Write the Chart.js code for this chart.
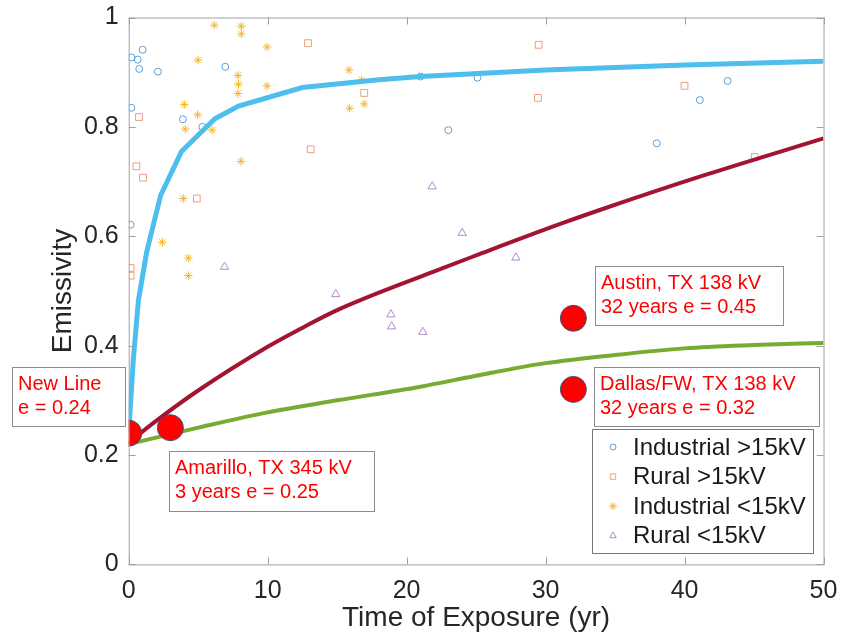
<!DOCTYPE html>
<html>
<head>
<meta charset="utf-8">
<script src="https://cdn.jsdelivr.net/npm/chart.js@4.4.1/dist/chart.umd.min.js"></script>
<style>
  html, body { margin: 0; padding: 0; background: #fff; }
</style>
</head>
<body>
<canvas id="myChart" width="841" height="642"></canvas>
<script>
// scatter measurements
const indHiX = [0.2, 0.65, 1.0, 0.76, 2.1, 6.95, 0.19, 3.9, 5.3, 0.14, 25.1, 23.0, 21.0, 43.1, 41.1, 38.0]
const indHiY = [0.927, 0.923, 0.941, 0.906, 0.901, 0.910, 0.835, 0.814, 0.800, 0.621, 0.890, 0.794, 0.892, 0.884, 0.849, 0.770]

const rurHiX = [12.9, 16.95, 13.1, 0.74, 0.55, 1.03, 4.9, 0.14, 0.14, 29.5, 29.45, 40.0, 45.05]
const rurHiY = [0.953, 0.862, 0.759, 0.818, 0.728, 0.707, 0.669, 0.542, 0.528, 0.950, 0.853, 0.875, 0.745]

const indLoX = [6.16, 8.1, 8.1, 9.95, 4.99, 7.86, 7.9, 7.86, 9.95, 4.0, 4.96, 4.07, 6.0, 8.08, 3.93, 15.85, 15.9, 16.95, 16.76, 2.42, 4.29, 4.29]
const indLoY = [0.986, 0.984, 0.970, 0.946, 0.922, 0.894, 0.878, 0.861, 0.875, 0.841, 0.822, 0.796, 0.794, 0.737, 0.669, 0.904, 0.834, 0.842, 0.886, 0.589, 0.560, 0.528]

const rurLoX = [6.9, 14.9, 21.84, 24.0, 27.86, 18.87, 18.92, 21.17]
const rurLoY = [0.544, 0.494, 0.691, 0.606, 0.561, 0.457, 0.435, 0.425]

// fitted curves
const blueX = [0, 0.33, 0.7, 1.3, 2.3, 3.8, 6.2, 7.9, 12.5, 18, 21, 30, 40, 50]
const blueY = [0.24, 0.374, 0.483, 0.572, 0.675, 0.755, 0.815, 0.838, 0.872, 0.886, 0.892, 0.904, 0.913, 0.92]

const redX = [0, 1, 2, 5, 10, 12.3, 15, 21.9, 25, 31, 33.9, 41.6, 50]
const redY = [0.22, 0.243, 0.263, 0.318, 0.398, 0.43, 0.465, 0.535, 0.565, 0.622, 0.648, 0.713, 0.779]

const greenX = [0, 5, 10, 15, 21, 25, 30, 35, 40, 45, 50]
const greenY = [0.22, 0.25, 0.278, 0.30, 0.325, 0.345, 0.368, 0.383, 0.395, 0.401, 0.405]

// field sites
const siteX = [0, 3, 32, 32]
const siteY = [0.24, 0.25, 0.45, 0.32]

const xTicks = [0, 10, 20, 30, 40, 50]
const yTicks = [0, 0.2, 0.4, 0.6, 0.8, 1]

const noteText = [
    ["New Line", "e = 0.24"],
    ["Amarillo, TX 345 kV", "3 years e = 0.25"],
    ["Austin, TX 138 kV", "32 years e = 0.45"],
    ["Dallas/FW, TX 138 kV", "32 years e = 0.32"]
]
const noteBox = [
    {x: 12, y: 367, w: 113, h: 59},
    {x: 169, y: 451, w: 205, h: 60},
    {x: 595, y: 266, w: 188, h: 59},
    {x: 594, y: 367, w: 225, h: 59}
]

const pts = (xs, ys) => xs.map((x, i) => ({x: x, y: ys[i]}))

const FONT = "'Liberation Sans', Arial, Helvetica, sans-serif"

const scatterSet = (label, xs, ys, color, style, r) => ({
    label: label,
    data: pts(xs, ys),
    pointStyle: style,
    pointRadius: r,
    pointBorderWidth: 1,
    pointBorderColor: color,
    pointBackgroundColor: 'rgba(0,0,0,0)',
    showLine: false,
    order: 10
})

const lineSet = (xs, ys, color, width, smooth) => ({
    label: '',
    data: pts(xs, ys),
    showLine: true,
    borderColor: color,
    borderWidth: width,
    pointRadius: 0,
    tension: smooth ? 0.4 : 0,
    cubicInterpolationMode: smooth ? 'monotone' : 'default',
    order: 5
})

const datasets = [
    scatterSet('Industrial >15kV', indHiX, indHiY, '#5b9fd8', 'circle', 3.5),
    scatterSet('Rural >15kV', rurHiX, rurHiY, '#ee9d7f', 'rect', 4.8),
    scatterSet('Industrial <15kV', indLoX, indLoY, '#f3b431', 'star', 4.2),
    scatterSet('Rural <15kV', rurLoX, rurLoY, '#b28ac6', 'triangle', 4.8),
    lineSet(blueX, blueY, '#4dbeee', 5, false),
    lineSet(redX, redY, '#a2142f', 4, true),
    lineSet(greenX, greenY, '#77ac30', 4, true),
    {
        label: '',
        data: pts(siteX, siteY),
        showLine: false,
        pointRadius: 13,
        pointBackgroundColor: '#ff0000',
        pointBorderColor: '#3a4f86',
        pointBorderWidth: 1,
        order: 0
    }
]

const framePlugin = {
    id: 'frame',
    afterDraw(chart) {
        const ctx = chart.ctx
        const a = chart.chartArea
        const xs = chart.scales.x
        const ys = chart.scales.y
        ctx.save()
        ctx.strokeStyle = '#a0a0a0'
        ctx.lineWidth = 1
        ctx.strokeRect(a.left + 0.5, a.top + 0.5, a.right - a.left, a.bottom - a.top)
        ctx.beginPath()
        xTicks.forEach(v => {
            const px = Math.round(xs.getPixelForValue(v)) + 0.5
            ctx.moveTo(px, a.bottom); ctx.lineTo(px, a.bottom - 7)
            ctx.moveTo(px, a.top); ctx.lineTo(px, a.top + 7)
        })
        yTicks.forEach(v => {
            const py = Math.round(ys.getPixelForValue(v)) + 0.5
            ctx.moveTo(a.left, py); ctx.lineTo(a.left + 7, py)
            ctx.moveTo(a.right, py); ctx.lineTo(a.right - 7, py)
        })
        ctx.stroke()

        // text boxes
        ctx.font = '20px ' + FONT
        ctx.textBaseline = 'alphabetic'
        ctx.textAlign = 'left'
        noteText.forEach((lines, i) => {
            const b = noteBox[i]
            ctx.fillStyle = '#fff'
            ctx.fillRect(b.x, b.y, b.w, b.h)
            ctx.strokeStyle = '#8c8c8c'
            ctx.strokeRect(b.x + 0.5, b.y + 0.5, b.w, b.h)
            ctx.fillStyle = '#ff0000'
            ctx.fillText(lines[0], b.x + 6, b.y + 23)
            ctx.fillText(lines[1], b.x + 6, b.y + 47)
        })

        // legend
        const lg = {x: 592, y: 429, w: 221, h: 124}
        ctx.fillStyle = '#fff'
        ctx.fillRect(lg.x, lg.y, lg.w, lg.h)
        ctx.strokeStyle = '#777'
        ctx.strokeRect(lg.x + 0.5, lg.y + 0.5, lg.w, lg.h)
        ctx.font = '24px ' + FONT
        ctx.textBaseline = 'middle'
        for (let i = 0; i < 4; i++) {
            const ds = chart.data.datasets[i]
            const cy = 447 + i * 29.6
            ctx.strokeStyle = ds.pointBorderColor
            ctx.fillStyle = 'rgba(0,0,0,0)'
            ctx.lineWidth = 1
            Chart.helpers.drawPoint(ctx, {pointStyle: ds.pointStyle, radius: ds.pointStyle == 'circle' ? 3 : 3.8, rotation: 0, borderWidth: 1}, 613, cy)
            ctx.fillStyle = '#1a1a1a'
            ctx.fillText(ds.label, 633, cy + 1)
        }
        ctx.restore()
    }
}

const config = {
    type: 'scatter',
    data: { datasets: datasets },
    options: {
        responsive: false,
        animation: false,
        layout: { padding: { left: 0, top: 17.5, right: 17.5, bottom: 0 } },
        plugins: {
            legend: { display: false },
            tooltip: { enabled: false }
        },
        scales: {
            x: {
                type: 'linear',
                min: 0, max: 50,
                afterFit: s => { s.height = 77.6; s.paddingLeft = 0; s.paddingRight = 0 },
                afterBuildTicks: s => { s.ticks = xTicks.map(v => ({value: v})) },
                grid: { display: false, drawTicks: false },
                border: { display: false },
                ticks: { color: '#262626', padding: 12, font: { family: FONT, size: 25 } },
                title: { display: true, text: 'Time of Exposure (yr)', color: '#262626', padding: { bottom: 7, top: 0 }, font: { family: FONT, size: 28 } }
            },
            y: {
                type: 'linear',
                min: 0, max: 1,
                afterFit: s => { s.width = 128.7; s.paddingTop = 0; s.paddingBottom = 0 },
                afterBuildTicks: s => { s.ticks = yTicks.map(v => ({value: v})) },
                grid: { display: false, drawTicks: false },
                border: { display: false },
                ticks: { color: '#262626', padding: 10, font: { family: FONT, size: 25 }, callback: v => String(Math.round(v * 10) / 10) },
                title: { display: true, text: 'Emissivity', color: '#262626', padding: { top: 46, bottom: 0 }, font: { family: FONT, size: 28 } }
            }
        }
    },
    plugins: [framePlugin]
}

const myChart = new Chart(document.getElementById('myChart'), config)
</script>
</body>
</html>
